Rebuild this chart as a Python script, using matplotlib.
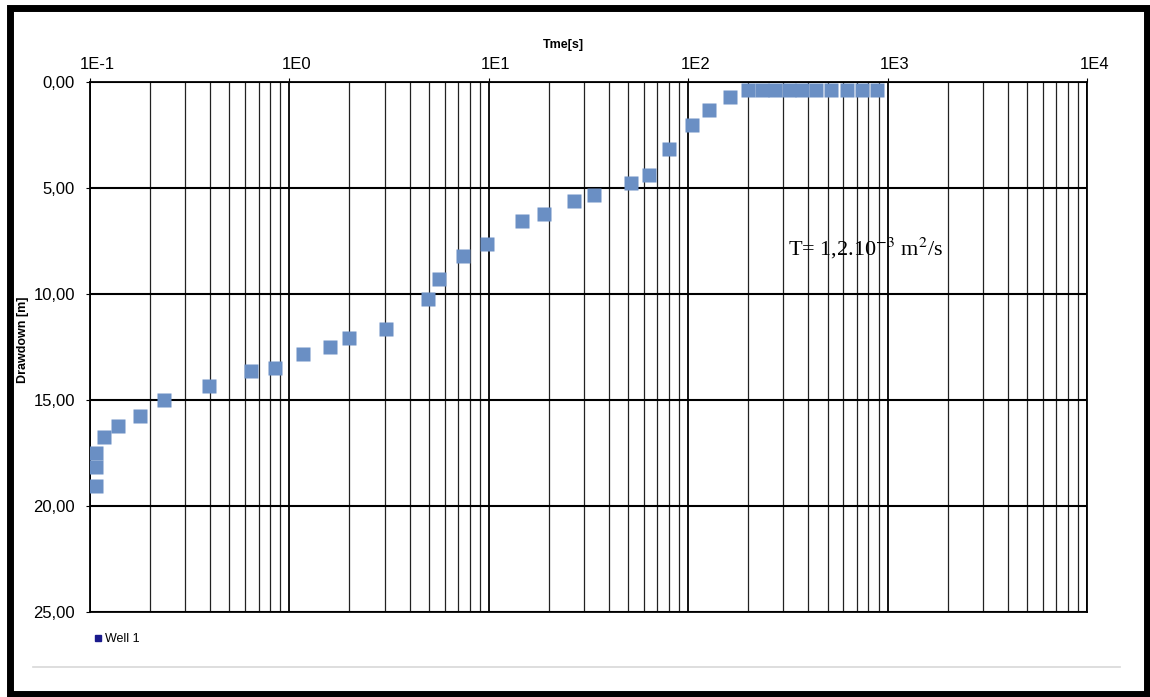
import numpy as np
import matplotlib.pyplot as plt
import matplotlib.transforms as mtransforms
from matplotlib.patches import Rectangle
from matplotlib.lines import Line2D

# vreme [s] i snizenje [m] za Well 1
t = [0.107, 0.107, 0.107, 0.1175, 0.138, 0.178, 0.235, 0.395, 0.641, 0.847,
     1.17, 1.60, 1.99, 3.05, 4.96, 5.63, 7.43, 9.80, 14.7, 18.9,
     26.7, 33.7, 51.7, 63.6, 80.1, 104.5, 127, 162,
     200, 234, 272, 320, 372, 437, 520, 626, 744, 885]
s = [17.5, 18.18, 19.06, 16.75, 16.23, 15.75, 15.0, 14.34, 13.63, 13.49,
     12.83, 12.5, 12.08, 11.65, 10.24, 9.29, 8.21, 7.64, 6.56, 6.23,
     5.61, 5.33, 4.76, 4.39, 3.16, 2.03, 1.32, 0.71,
     0.37, 0.37, 0.37, 0.37, 0.37, 0.37, 0.37, 0.37, 0.37, 0.37]

x_ticks = [1e-1, 1e0, 1e1, 1e2, 1e3, 1e4]
x_labels = ['1E-1', '1E0', '1E1', '1E2', '1E3', '1E4']
y_ticks = [0, 5, 10, 15, 20, 25]
y_labels = ['0,00', '5,00', '10,00', '15,00', '20,00', '25,00']

plt.rcParams['font.family'] = ['Liberation Sans', 'DejaVu Sans']

fig = plt.figure(figsize=(11.5, 6.97), dpi=100)
ax = fig.add_axes([0.0783, 0.122, 0.8670, 0.7604])

ax.plot(t, s, 's', color='#6a8fc4', ms=10, mec='none', zorder=3)

ax.set_xscale('log')
ax.set_xlim(1e-1, 1e4)
ax.set_ylim(25, 0)
ax.xaxis.tick_top()
ax.set_xticks(x_ticks)
ax.set_xticklabels(x_labels, fontsize=12)
ax.set_yticks(y_ticks)
ax.set_yticklabels(y_labels, fontsize=12)
ax.tick_params(axis='x', which='major', length=3, pad=4)
ax.tick_params(axis='x', which='minor', length=0)
ax.tick_params(axis='y', length=3, pad=8)

# x oznake malo desno od linije
off = mtransforms.ScaledTranslation(0.07, 0, fig.dpi_scale_trans)
for lab in ax.get_xticklabels():
    lab.set_transform(lab.get_transform() + off)

ax.grid(True, which='major', axis='x', color='black', lw=1.3)
ax.grid(True, which='minor', axis='x', color='#222222', lw=0.9)
ax.grid(True, which='major', axis='y', color='black', lw=1.5)
for sp in ax.spines.values():
    sp.set_color('black')
    sp.set_linewidth(1.3)

fig.text(563 / 1150, 1 - 45 / 697, 'Tme[s]', fontsize=9, fontweight='bold',
         ha='center', va='center')
fig.text(23 / 1150, 1 - 340 / 697, 'Drawdown [m]', fontsize=9, fontweight='bold',
         rotation=90, ha='center', va='center')
ax.text(788 / 1150, 1 - 248 / 697, 'T= 1,2.10$^{-3}$ m$^2$/s', transform=fig.transFigure,
        fontsize=16, family='Liberation Serif', ha='left', va='center',
        math_fontfamily='stix', zorder=4)

# legenda
leg = [Line2D([], [], ls='none', marker='s', color='#1a1a8c', ms=5)]
fig.legend(leg, ['Well 1'], loc='center left', bbox_to_anchor=(80 / 1150, 1 - 639 / 697),
           frameon=False, fontsize=9, handletextpad=0.1, handlelength=1)

# siva linija i okvir
fig.add_artist(Line2D([33 / 1150, 1120 / 1150], [1 - 667 / 697] * 2, color='#d8d8d8', lw=1.2))
fig.add_artist(Rectangle((0.009, 0.004), 0.988, 0.985, fill=False, ec='black', lw=5,
                         transform=fig.transFigure))

fig.savefig('out.png', dpi=100)
